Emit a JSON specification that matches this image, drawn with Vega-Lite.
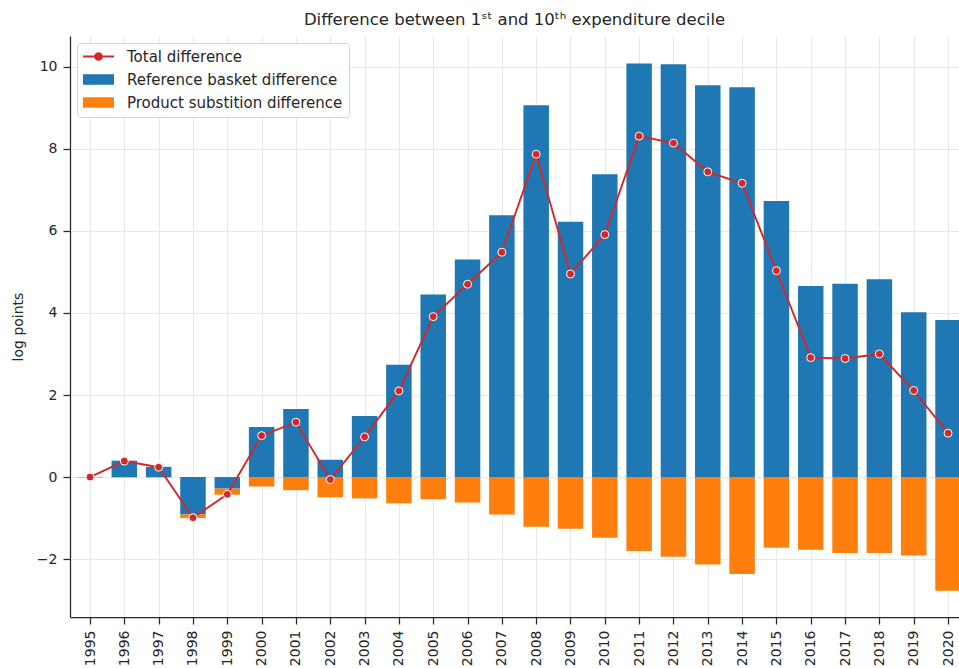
{
  "$schema": "https://vega.github.io/schema/vega-lite/v6.json",
  "width": 889,
  "height": 581,
  "autosize": {"type": "none"},
  "padding": {"left": 70, "top": 36, "right": 0, "bottom": 51},
  "background": "white",
  "title": {
    "text": "Difference between 1ˢᵗ and 10ᵗʰ expenditure decile",
    "font": "DejaVu Sans",
    "fontSize": 16.5,
    "fontWeight": "normal",
    "color": "#262626",
    "offset": 8
  },
  "config": {
    "view": {"stroke": null},
    "axis": {
      "domainColor": "#262626",
      "domainWidth": 1.25,
      "tickColor": "#262626",
      "tickWidth": 1.25,
      "tickSize": 7,
      "labelFont": "DejaVu Sans",
      "labelFontSize": 14,
      "labelColor": "#262626",
      "labelPadding": 6,
      "gridColor": "#e8e8e8",
      "gridWidth": 1.1,
      "titleFont": "DejaVu Sans",
      "titleFontSize": 14,
      "titleColor": "#262626",
      "titleFontWeight": "normal"
    }
  },
  "data": {
    "values": [
      {"year": 1995, "ref": 0.0, "sub": -0.01, "total": 0.0},
      {"year": 1996, "ref": 0.40, "sub": -0.01, "total": 0.39},
      {"year": 1997, "ref": 0.25, "sub": -0.01, "total": 0.24},
      {"year": 1998, "ref": -0.91, "sub": -0.09, "total": -0.99},
      {"year": 1999, "ref": -0.28, "sub": -0.15, "total": -0.42},
      {"year": 2000, "ref": 1.22, "sub": -0.23, "total": 1.01},
      {"year": 2001, "ref": 1.66, "sub": -0.32, "total": 1.34},
      {"year": 2002, "ref": 0.42, "sub": -0.49, "total": -0.06},
      {"year": 2003, "ref": 1.49, "sub": -0.52, "total": 0.98},
      {"year": 2004, "ref": 2.74, "sub": -0.64, "total": 2.10},
      {"year": 2005, "ref": 4.45, "sub": -0.54, "total": 3.91},
      {"year": 2006, "ref": 5.30, "sub": -0.62, "total": 4.70},
      {"year": 2007, "ref": 6.38, "sub": -0.91, "total": 5.48},
      {"year": 2008, "ref": 9.06, "sub": -1.21, "total": 7.87},
      {"year": 2009, "ref": 6.22, "sub": -1.26, "total": 4.95},
      {"year": 2010, "ref": 7.38, "sub": -1.48, "total": 5.91},
      {"year": 2011, "ref": 10.08, "sub": -1.80, "total": 8.31},
      {"year": 2012, "ref": 10.06, "sub": -1.94, "total": 8.14},
      {"year": 2013, "ref": 9.55, "sub": -2.13, "total": 7.44},
      {"year": 2014, "ref": 9.50, "sub": -2.36, "total": 7.16},
      {"year": 2015, "ref": 6.73, "sub": -1.72, "total": 5.03},
      {"year": 2016, "ref": 4.66, "sub": -1.77, "total": 2.91},
      {"year": 2017, "ref": 4.71, "sub": -1.85, "total": 2.89},
      {"year": 2018, "ref": 4.82, "sub": -1.85, "total": 3.00},
      {"year": 2019, "ref": 4.02, "sub": -1.91, "total": 2.11},
      {"year": 2020, "ref": 3.83, "sub": -2.77, "total": 1.07}
    ]
  },
  "encoding": {
    "x": {
      "field": "year",
      "type": "quantitative",
      "scale": {"domain": [1994.417, 2020.32], "nice": false, "zero": false, "padding": 0},
      "axis": {
        "title": null,
        "values": [1995,1996,1997,1998,1999,2000,2001,2002,2003,2004,2005,2006,2007,2008,2009,2010,2011,2012,2013,2014,2015,2016,2017,2018,2019,2020],
        "format": "d",
        "labelAngle": 270,
        "labelAlign": "right",
        "labelBaseline": "middle",
        "grid": true
      }
    }
  },
  "layer": [
    {
      "transform": [
        {"fold": ["ref", "sub"], "as": ["key", "value"]},
        {"lookup": "key", "from": {"data": {"values": [
          {"key": "ref", "component": "Reference basket difference"},
          {"key": "sub", "component": "Product substition difference"}
        ]}, "key": "key", "fields": ["component"]}}
      ],
      "mark": {"type": "bar", "size": 25.5},
      "encoding": {
        "y": {
          "field": "value",
          "type": "quantitative",
          "stack": "zero",
          "scale": {"domain": [-3.41, 10.75], "nice": false, "zero": false, "padding": 0},
          "axis": {
            "title": "log points",
            "values": [-2, 0, 2, 4, 6, 8, 10],
            "grid": true,
            "titlePadding": 11
          }
        },
        "color": {
          "field": "component",
          "type": "nominal",
          "scale": {
            "domain": ["Total difference", "Reference basket difference", "Product substition difference"],
            "range": ["#d62728", "#1f77b4", "#ff7f0e"]
          },
          "legend": {
            "title": null,
            "orient": "none",
            "legendX": 7,
            "legendY": 7,
            "fillColor": "white",
            "strokeColor": "#d5d5d5",
            "cornerRadius": 3,
            "padding": 6,
            "labelFont": "DejaVu Sans",
            "labelFontSize": 15,
            "labelColor": "#262626",
            "labelOffset": 29,
            "labelLimit": 500,
            "rowPadding": 7,
            "symbolSize": 961,
            "encode": {
              "symbols": {
                "update": {
                  "x": {"value": 15.5},
                  "shape": {"signal": "datum.value === 'Total difference' ? 'M-1,0L-0.22,0M0.22,0L1,0M-0.22,0A0.22,0.22 0 1,0 0.22,0A0.22,0.22 0 1,0 -0.22,0' : 'M-1,-0.34L1,-0.34L1,0.34L-1,0.34Z'"},
                  "fill": {"scale": "color", "field": "value"},
                  "stroke": {"scale": "color", "field": "value"},
                  "strokeWidth": {"signal": "datum.value === 'Total difference' ? 1.8 : 0"},
                  "opacity": {"value": 1},
                  "fillOpacity": {"value": 1}
                }
              }
            }
          }
        },
        "order": {"field": "component", "sort": "descending"}
      }
    },
    {
      "mark": {
        "type": "line",
        "strokeWidth": 1.9,
        "point": {"filled": true, "size": 64, "stroke": "white", "strokeWidth": 1}
      },
      "encoding": {
        "y": {"field": "total", "type": "quantitative"},
        "color": {"datum": "Total difference"}
      }
    }
  ]
}
